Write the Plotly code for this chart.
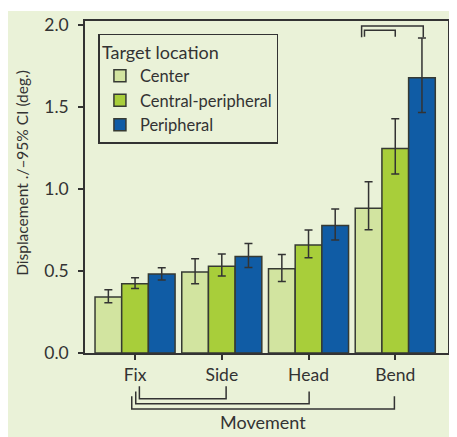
import plotly.graph_objects as go

categories = ["Fix", "Side", "Head", "Bend"]
series_names = ["Center", "Central-peripheral", "Peripheral"]

center = [0.342, 0.494, 0.514, 0.884]
center_hi = [0.386, 0.575, 0.601, 1.045]
center_lo = [0.307, 0.423, 0.437, 0.752]

central_peripheral = [0.423, 0.530, 0.659, 1.248]
central_peripheral_hi = [0.459, 0.604, 0.750, 1.430]
central_peripheral_lo = [0.394, 0.470, 0.581, 1.093]

peripheral = [0.482, 0.589, 0.778, 1.679]
peripheral_hi = [0.520, 0.668, 0.879, 1.923]
peripheral_lo = [0.445, 0.522, 0.689, 1.467]

y_ticks = [0.0, 0.5, 1.0, 1.5, 2.0]
y_tick_labels = ["0.0", "0.5", "1.0", "1.5", "2.0"]

colors = ["#d2e4a0", "#a8ce3a", "#105ca5"]
edge = "#363a33"
ink = "#333333"
bg = "#eaf2d8"
FONT = "Lato"

x_idx = list(range(len(categories)))
series = [
    (center, center_hi, center_lo),
    (central_peripheral, central_peripheral_hi, central_peripheral_lo),
    (peripheral, peripheral_hi, peripheral_lo),
]

fig = go.Figure()
for name, col, (vals, hi, lo) in zip(series_names, colors, series):
    fig.add_trace(go.Bar(
        x=x_idx, y=vals, name=name,
        marker=dict(color=col, line=dict(color=edge, width=1.5)),
        error_y=dict(type="data", symmetric=False,
                     array=[h - v for h, v in zip(hi, vals)],
                     arrayminus=[v - l for v, l in zip(vals, lo)],
                     color=ink, thickness=1.5, width=4),
    ))

shapes = []
# background panel
shapes.append(dict(type="rect", xref="paper", yref="paper",
                   x0=-0.25, x1=1.05, y0=-0.3, y1=1.030,
                   fillcolor=bg, line=dict(width=0), layer="below"))

# bottom brackets (Fix vs Side / Head / Bend)
bottom = [
    (0.05, 1.05, -0.1005, -0.1375),
    (0.008, 2.007, -0.1156, -0.1526),
    (-0.038, 2.99, -0.1306, -0.1685),
]
for xl, xr, ytop, ybot in bottom:
    shapes.append(dict(type="path", xref="x", yref="paper",
                       path=f"M {xl},{ytop} L {xl},{ybot} L {xr},{ybot} L {xr},{ytop}",
                       line=dict(color=ink, width=1.5)))

# top brackets above Bend
top = [
    (2.612, 3.323, 1.996, 1.927),
    (2.645, 3.0, 1.9695, 1.93),
]
for xl, xr, ytop, ybot in top:
    shapes.append(dict(type="path", xref="x", yref="y",
                       path=f"M {xl},{ybot} L {xl},{ytop} L {xr},{ytop} L {xr},{ybot}",
                       line=dict(color=ink, width=1.5)))

fig.update_layout(
    width=449, height=429,
    margin=dict(l=77, r=9, t=13, b=84, autoexpand=False),
    paper_bgcolor="white",
    plot_bgcolor="rgba(0,0,0,0)",
    font=dict(family=FONT, size=16, color=ink),
    barmode="group", bargap=0.077, bargroupgap=0,
    showlegend=True,
    legend=dict(
        x=0.037, y=0.962, xanchor="left", yanchor="top",
        bgcolor="rgba(0,0,0,0)", bordercolor=ink, borderwidth=1.5,
        title=dict(text="Target location", font=dict(size=18, family=FONT, color=ink)),
        font=dict(size=16.5, family=FONT, color=ink),
        traceorder="normal",
    ),
    shapes=shapes,
    annotations=[
        dict(text="Movement", xref="paper", yref="paper",
             x=0.49, y=-0.2067, xanchor="center", yanchor="middle",
             showarrow=False, font=dict(size=18, family=FONT, color=ink)),
        dict(text="Displacement ./–95% CI (deg.)", xref="paper", yref="paper",
             x=-0.1736, y=0.5426, xanchor="center", yanchor="middle", textangle=-90,
             showarrow=False, font=dict(size=15.5, family=FONT, color=ink)),
    ],
    xaxis=dict(
        range=[-0.577, 3.608], automargin=False,
        tickmode="array", tickvals=x_idx, ticktext=categories,
        showline=True, mirror=True, linecolor=ink, linewidth=1.5,
        ticks="outside", ticklen=5, tickwidth=1.5, tickcolor=ink,
        showgrid=False, zeroline=False,
        tickfont=dict(size=17.5),
    ),
    yaxis=dict(
        range=[0, 2.026], automargin=False,
        tickmode="array", tickvals=y_ticks, ticktext=y_tick_labels,
        showline=True, mirror=True, linecolor=ink, linewidth=1.5,
        ticks="outside", ticklen=5, tickwidth=1.5, tickcolor=ink,
        showgrid=False, zeroline=False,
        tickfont=dict(size=17.5), ticklabelstandoff=6,
    ),
)

fig.write_html("out.html")
